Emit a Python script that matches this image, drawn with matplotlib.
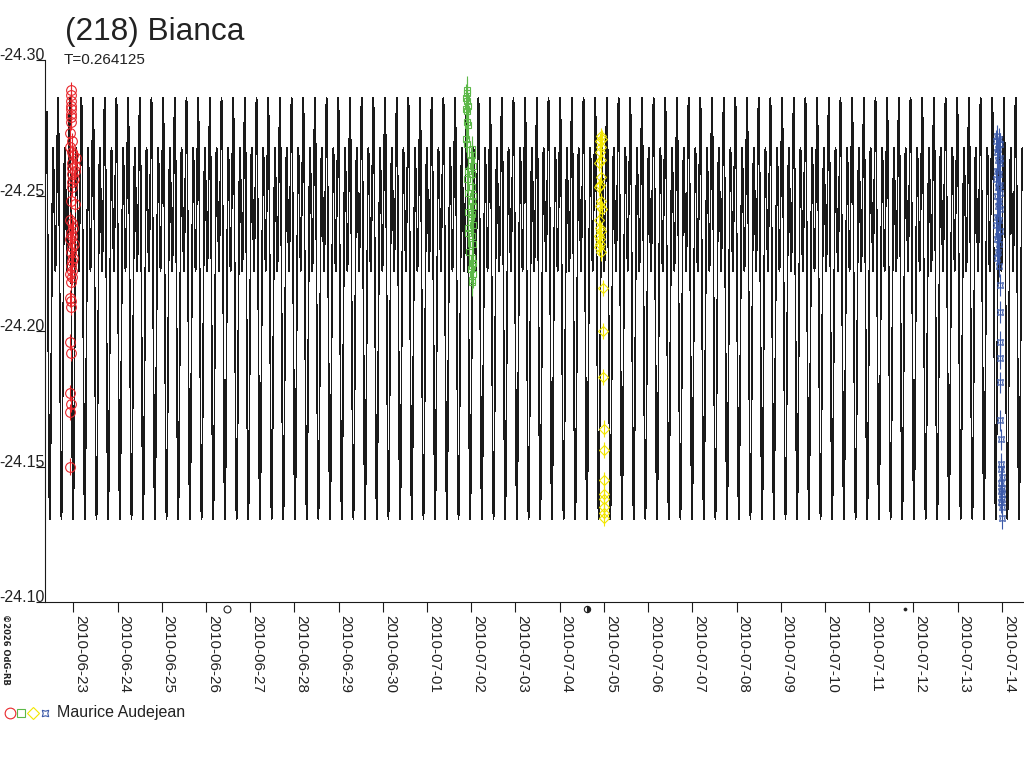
import numpy as np
import matplotlib
matplotlib.use("Agg")
import matplotlib.pyplot as plt
import matplotlib.dates as mdates
import matplotlib.transforms as mtransforms
from datetime import datetime

plt.rcParams['font.family'] = ['Liberation Sans', 'DejaVu Sans']

# ---------------- data ----------------
title = "(218) Bianca"
period_label = "T=0.264125"
observer = "Maurice Audejean"
copyright_text = "\u00a92026 OdG-RB"

PERIOD = 0.264125            # days
# Fourier model of the light curve (magnitude)
model_c = -24.2240
model_cos2 = 0.0474
model_cos1 = 0.0095
model_sin1 = 0.0458
model_t0 = 0.40              # epoch of primary maximum, days after 2010-06-22
model_start = 0.40           # days after 2010-06-22
model_end = 22.47
model_step = 0.0005

tick_offsets = list(range(1, 23))   # days after 2010-06-22
tick_labels = ["2010-06-23", "2010-06-24", "2010-06-25", "2010-06-26", "2010-06-27",
               "2010-06-28", "2010-06-29", "2010-06-30", "2010-07-01", "2010-07-02",
               "2010-07-03", "2010-07-04", "2010-07-05", "2010-07-06", "2010-07-07",
               "2010-07-08", "2010-07-09", "2010-07-10", "2010-07-11", "2010-07-12",
               "2010-07-13", "2010-07-14"]
yticks = [-24.30, -24.25, -24.20, -24.15, -24.10]
ytick_labels = ["-24.30", "-24.25", "-24.20", "-24.15", "-24.10"]

moon_days = [4.48, 12.61, 19.82]          # full, last quarter, new
moon_kinds = ["full", "last", "new"]

red_t = [0.94, 0.95, 0.94, 0.95, 0.95, 0.94, 0.95, 0.94,
         0.93, 0.96, 0.92, 0.97, 0.99, 1.05, 0.96, 1.04, 0.97, 1.03, 0.96, 1.02, 0.98, 0.97,
         0.95, 1.03,
         0.92, 0.97, 1.00, 0.94, 0.98, 0.93, 1.01, 0.96, 0.95, 0.99, 0.96, 0.94, 0.98, 0.93, 0.97, 0.95,
         0.93, 0.95, 0.94, 0.93, 0.94, 0.93, 0.94, 0.93, 0.92]
red_m = [-24.289, -24.287, -24.285, -24.283, -24.282, -24.280, -24.279, -24.277,
         -24.273, -24.270, -24.268, -24.266, -24.265, -24.264, -24.262, -24.261, -24.260,
         -24.259, -24.258, -24.256, -24.255, -24.253,
         -24.248, -24.247,
         -24.241, -24.240, -24.238, -24.236, -24.235, -24.234, -24.232, -24.231, -24.229,
         -24.227, -24.226, -24.224, -24.222, -24.221, -24.220, -24.218,
         -24.212, -24.211, -24.209, -24.196, -24.192, -24.177, -24.173, -24.170, -24.150]

green_t = [9.90, 9.91, 9.89, 9.90, 9.92, 9.89, 9.91, 9.90, 9.92, 9.88, 9.90, 10.01, 10.02,
           10.00, 10.03, 9.92, 10.01, 9.91,
           10.02, 9.92, 10.03, 10.01, 10.04, 9.93, 10.02, 10.00, 10.03, 9.92, 9.93, 10.02,
           10.05, 9.95, 10.01, 10.03, 10.02, 10.00, 10.03, 10.01, 10.02]
green_m = [-24.289, -24.288, -24.286, -24.285, -24.283, -24.282, -24.281, -24.277, -24.276,
           -24.271, -24.269, -24.267, -24.265, -24.263, -24.261, -24.259, -24.258, -24.256,
           -24.253, -24.251, -24.250, -24.248, -24.246, -24.244, -24.243, -24.242, -24.239,
           -24.238, -24.236, -24.235, -24.232, -24.229, -24.227, -24.225, -24.224, -24.223,
           -24.221, -24.219, -24.218]

yellow_t = [12.93, 12.95, 12.92, 12.94, 12.91, 12.93, 12.90, 12.94, 12.92, 12.90, 12.93,
            12.91, 12.95, 12.90, 12.92, 12.94, 12.90, 12.92, 12.91, 12.89, 12.93,
            12.97, 12.98, 12.99, 13.00, 13.00, 13.01, 13.00, 13.01, 13.00, 13.01, 13.00]
yellow_m = [-24.272, -24.271, -24.270, -24.268, -24.266, -24.263, -24.262, -24.257, -24.254,
            -24.253, -24.248, -24.246, -24.245, -24.241, -24.238, -24.237, -24.235, -24.234,
            -24.232, -24.231, -24.229,
            -24.216, -24.200, -24.183, -24.164, -24.156, -24.145, -24.140, -24.138, -24.135,
            -24.133, -24.131]

blue_t = [21.90, 21.94, 21.88, 21.96, 21.92, 21.89, 21.95, 21.91, 21.97, 21.90, 21.93, 21.88,
          21.95, 21.92, 21.96, 21.89, 21.94, 21.91, 21.97, 21.90, 21.93, 21.88, 21.95, 21.92,
          21.89, 21.94, 21.91, 21.90, 21.93,
          21.95, 21.96, 21.97, 21.97, 21.96, 21.97, 21.98, 21.99, 21.98, 22.00, 21.99, 22.00,
          21.99, 22.01, 22.00, 21.99, 22.00, 22.00]
blue_m = [-24.272, -24.271, -24.270, -24.269, -24.267, -24.266, -24.264, -24.263, -24.262,
          -24.259, -24.258, -24.256, -24.254, -24.253, -24.251, -24.250, -24.248, -24.246,
          -24.245, -24.242, -24.241, -24.239, -24.237, -24.235, -24.234, -24.232, -24.229,
          -24.227, -24.224,
          -24.217, -24.207, -24.196, -24.190, -24.181, -24.167, -24.160, -24.151, -24.149,
          -24.146, -24.144, -24.142, -24.141, -24.140, -24.138, -24.137, -24.135, -24.131]

series = [
    dict(t=red_t, m=red_m, err=0.003, color="#e8262b", marker="o", ms=7.0),
    dict(t=green_t, m=green_m, err=0.005, color="#5cb848", marker="s", ms=5.0),
    dict(t=yellow_t, m=yellow_m, err=0.003, color="#f2e600", marker="D", ms=5.2),
    dict(t=blue_t, m=blue_m, err=0.004, color="#3a58a8", marker=(4, 1, 45), ms=6.0),
]

# ---------------- figure ----------------
TXT = "#222222"
fig = plt.figure(figsize=(10.24, 7.68), dpi=100)
fig.patch.set_facecolor("white")
ax = fig.add_axes([45 / 1024, 1 - 602 / 768, 979 / 1024, 542 / 768])
ax.set_facecolor("none")

base = mdates.date2num(datetime(2010, 6, 22))

# model curve
t = np.arange(model_start, model_end, model_step)
ph = 2 * np.pi * (t - model_t0) / PERIOD
m = model_c - model_cos2 * np.cos(2 * ph) - model_cos1 * np.cos(ph) + model_sin1 * np.sin(ph)
ax.plot(base + t, m, color="#1a1a1a", lw=0.45, antialiased=False, zorder=2)

# observations
for s in series:
    ax.errorbar(base + np.array(s["t"]), s["m"], yerr=s["err"], fmt="none",
                ecolor=s["color"], elinewidth=0.8, capsize=0, zorder=3)
    ax.plot(base + np.array(s["t"]), s["m"], linestyle="none", marker=s["marker"],
            ms=s["ms"], mfc="none", mec=s["color"], mew=0.8, zorder=4)

ax.set_xlim(base + 0.360, base + 22.502)
ax.set_ylim(-24.10, -24.30)

for sp in ["top", "right"]:
    ax.spines[sp].set_visible(False)
for sp in ["left", "bottom"]:
    ax.spines[sp].set_linewidth(0.8)
    ax.spines[sp].set_color("#1a1a1a")

ax.set_xticks([base + d for d in tick_offsets])
ax.set_xticklabels(tick_labels, rotation=-90, ha="left", va="top", fontsize=11, color=TXT)
ax.tick_params(axis="x", length=7.2, width=0.8, pad=2, color="#1a1a1a")

ax.set_yticks(yticks)
ax.set_yticklabels([])
ax.tick_params(axis="y", length=6.5, width=0.8, color="#1a1a1a")
ytrans = mtransforms.blended_transform_factory(ax.transAxes, ax.transData)
for v, lab in zip(yticks, ytick_labels):
    ax.text(0.0, v, lab, transform=ytrans, ha="right", va="baseline",
            fontsize=11.5, color=TXT, clip_on=False)

# moon phases
mtrans = mtransforms.blended_transform_factory(ax.transData, ax.transAxes)
for d, k in zip(moon_days, moon_kinds):
    if k == "full":
        ax.plot([base + d], [-0.0125], transform=mtrans, marker="o", ms=5, mfc="none",
                mec=TXT, mew=0.8, clip_on=False)
    elif k == "last":
        ax.plot([base + d], [-0.0125], transform=mtrans, marker="o", ms=4.5, mfc=TXT,
                mfcalt="white", fillstyle="right", mec=TXT, mew=0.8, clip_on=False)
    else:
        ax.plot([base + d], [-0.0125], transform=mtrans, marker="o", ms=2.2, mfc=TXT,
                mec=TXT, mew=0.5, clip_on=False)

# texts
fig.text(65 / 1024, 1 - 40 / 768, title, fontsize=22.8, color=TXT, ha="left", va="baseline")
fig.text(64 / 1024, 1 - 64 / 768, period_label, fontsize=11, color=TXT, ha="left", va="baseline")
fig.text(1 / 1024, 1 - 614 / 768, copyright_text, fontsize=6, color=TXT, rotation=-90,
         ha="left", va="top", family=["DejaVu Sans"], fontweight="bold")

# legend overlay (figure pixel coordinates)
lax = fig.add_axes([0, 0, 1, 1])
lax.set_xlim(0, 1024)
lax.set_ylim(768, 0)
lax.axis("off")
lax.patch.set_alpha(0)
leg_x = [10, 21, 33, 45]
for s, lx in zip(series, leg_x):
    lax.plot([lx], [713], linestyle="none", marker=s["marker"], ms=s["ms"] * 1.1,
             mfc="none", mec=s["color"], mew=0.8)
lax.text(57, 713, observer, fontsize=11.5, color=TXT, ha="left", va="center")

fig.savefig("out.png", dpi=100, facecolor="white")
